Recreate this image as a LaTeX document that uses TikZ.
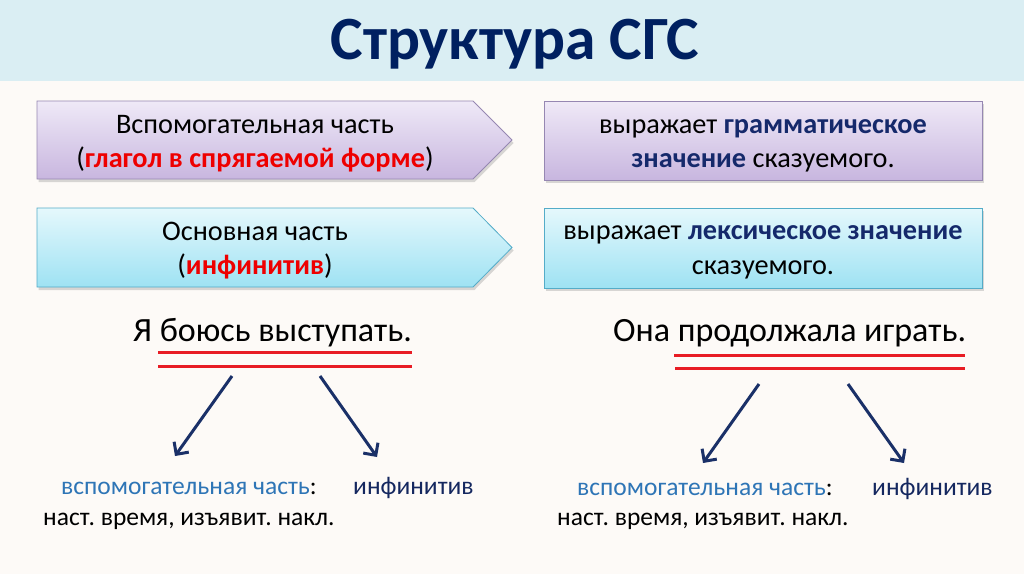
\documentclass[tikz,border=0pt]{standalone}
\usepackage{fontspec}
\setmainfont{Carlito}
\usetikzlibrary{shadows,arrows.meta}
\definecolor{titlebg}{RGB}{218,238,243}
\definecolor{bgcream}{RGB}{253,250,247}
\definecolor{titlenavy}{RGB}{0,32,96}
\definecolor{purptop}{RGB}{239,233,247}
\definecolor{purpbot}{RGB}{200,182,223}
\definecolor{purpline}{RGB}{150,135,178}
\definecolor{cyantop}{RGB}{229,248,252}
\definecolor{cyanbot}{RGB}{158,226,243}
\definecolor{cyanline}{RGB}{84,172,200}
\definecolor{redtxt}{RGB}{238,0,0}
\definecolor{redline}{RGB}{232,28,36}
\definecolor{arrnavy}{RGB}{26,48,104}
\definecolor{bluetxt}{RGB}{46,117,182}
\definecolor{navytxt}{RGB}{20,39,95}
\definecolor{boldnavy}{RGB}{21,41,107}
\frenchspacing
\tikzset{
  purpbox/.style={top color=purptop,bottom color=purpbot,draw=purpline,line width=0.8pt,
    drop shadow={shadow xshift=1.5pt,shadow yshift=-3pt,opacity=0.3}},
  cyanbox/.style={top color=cyantop,bottom color=cyanbot,draw=cyanline,line width=0.8pt,
    drop shadow={shadow xshift=1.5pt,shadow yshift=-3pt,opacity=0.3}},
  boxtext/.style={font=\fontsize{28.3}{34}\selectfont,inner sep=0pt,anchor=base},
  sent/.style={font=\fontsize{34}{40}\selectfont,inner sep=0pt,anchor=base west},
  lowtext/.style={font=\fontsize{25.5}{30}\selectfont,inner sep=0pt,anchor=base west},
  uline/.style={draw=redline,line width=3pt},
  darr/.style={draw=arrnavy,line width=3pt,-{Straight Barb[length=9pt,width=18pt,line width=3pt]}}
}
\begin{document}
\begin{tikzpicture}[x=1pt,y=-1pt]
\useasboundingbox (0,0) rectangle (1024,574);
\fill[bgcream] (0,0) rectangle (1024,574);
\fill[titlebg] (0,0) rectangle (1024,81);
\node[font=\fontsize{61.5}{66}\selectfont\bfseries,text=titlenavy,inner sep=0pt,anchor=base] (title) at (515,59) {Структура СГС};

% left arrow boxes
\path[purpbox] (37,101) -- (473,101) -- (512,140) -- (473,179) -- (37,179) -- cycle;
\node[boxtext] (aux1) at (255,133) {Вспомогательная часть};
\node[boxtext] (aux2) at (255,167) {(\textcolor{redtxt}{\bfseries глагол в спрягаемой форме})};
\path[cyanbox] (37,208) -- (473,208) -- (512,247.5) -- (473,287) -- (37,287) -- cycle;
\node[boxtext] (main1) at (255,240) {Основная часть};
\node[boxtext] (main2) at (255,274) {(\textcolor{redtxt}{\bfseries инфинитив})};

% right boxes
\path[purpbox] (544,101) rectangle (982,180);
\node[boxtext] (gram1) at (763,133) {выражает \textcolor{boldnavy}{\bfseries грамматическое}};
\node[boxtext] (gram2) at (763,167) {\textcolor{boldnavy}{\bfseries значение} сказуемого.};
\path[cyanbox] (544,208) rectangle (982,288);
\node[boxtext] (lex1) at (763,239) {выражает \textcolor{boldnavy}{\bfseries лексическое значение}};
\node[boxtext] (lex2) at (763,274) {сказуемого.};

% sentences
\node[sent] (s1) at (133,341) {Я боюсь выступать.};
\node[sent] (s2) at (613,341) {Она продолжала играть.};

\coordinate (u1a) at (158,352); \coordinate (u1b) at (412,352);
\coordinate (u2a) at (158,366); \coordinate (u2b) at (412,366);
\draw[uline] (u1a) -- (u1b);
\draw[uline] (u2a) -- (u2b);
\coordinate (u3a) at (674,355); \coordinate (u3b) at (965,355);
\coordinate (u4a) at (675,368); \coordinate (u4b) at (965,368);
\draw[uline] (u3a) -- (u3b);
\draw[uline] (u4a) -- (u4b);

% bottom texts
\node[lowtext] (la) at (61,494) {\textcolor{bluetxt}{вспомогательная часть}:};
\node[lowtext,text=navytxt] (li) at (353,494) {инфинитив};
\node[lowtext] (lt) at (43,525) {наст. время, изъявит. накл.};
\node[lowtext] (ra) at (577,495) {\textcolor{bluetxt}{вспомогательная часть}:};
\node[lowtext,text=navytxt] (ri) at (872,495) {инфинитив};
\node[lowtext] (rt) at (557,525) {наст. время, изъявит. накл.};

% arrows
\coordinate (a1s) at (232,376); \coordinate (a1e) at (175,456);
\coordinate (a2s) at (320,376); \coordinate (a2e) at (377,457);
\coordinate (a3s) at (759,384); \coordinate (a3e) at (703,463);
\coordinate (a4s) at (848,384); \coordinate (a4e) at (904,463);
\draw[darr] (a1s) -- (a1e);
\draw[darr] (a2s) -- (a2e);
\draw[darr] (a3s) -- (a3e);
\draw[darr] (a4s) -- (a4e);
\end{tikzpicture}
\end{document}
